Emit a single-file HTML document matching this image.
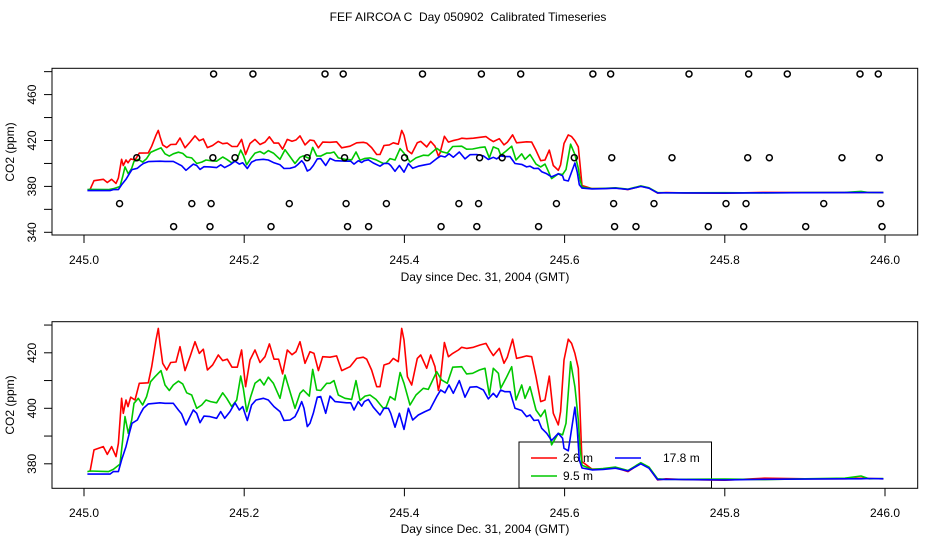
<!DOCTYPE html>
<html><head><meta charset="utf-8"><style>
body{margin:0;background:#fff;}
svg{display:block;font-family:"Liberation Sans",sans-serif;}
</style></head><body>
<svg id="c" width="936" height="540" viewBox="0 0 936 540">
<text x="468" y="21" font-size="12" text-anchor="middle" style="white-space:pre" xml:space="preserve">FEF AIRCOA C  Day 050902  Calibrated Timeseries</text>
</svg>
<script>
// ---- data ----
const redDays=[.0075,.0125,.0241,.0291,.0345,.0400,.0429,.0470,.0491,.0524,.0549,.0583,.0637,.0691,.0803,.0845,.0899,.0928,.0949,.0982,.1032,.1082,.1149,.1199,.1261,.1323,.1386,.1440,.1490,.1540,.1606,.1677,.1731,.1789,.1848,.1914,.1968,.2018,.2072,.2135,.2197,.2260,.2314,.2372,.2430,.2480,.2538,.2597,.2647,.2697,.2759,.2821,.2871,.2926,.2980,.3071,.3154,.3217,.3321,.3404,.3487,.3529,.3591,.3654,.3695,.3745,.3812,.3862,.3924,.3966,.3995,.4037,.4091,.4161,.4203,.4278,.4328,.4382,.4424,.4444,.4499,.4549,.4603,.4674,.4715,.4777,.4861,.4944,.5019,.5069,.5110,.5185,.5243,.5285,.5351,.5401,.5464,.5526,.5589,.5643,.5701,.5755,.5809,.5859,.5921,.5950,.5992,.6046,.6088,.6129,.6171,.6192];
const redVals=[377.2,385.0,386.2,383.4,386.2,382.6,387.4,403.6,398.2,403.0,400.6,404.0,403.0,409.0,409.2,415.0,424.6,428.8,423.4,416.2,413.8,416.5,416.7,422.2,413.6,418.6,424.0,419.8,421.3,413.8,415.6,419.2,417.2,417.7,414.8,414.8,421.0,407.8,417.4,421.0,416.5,418.6,423.2,417.7,417.7,412.4,421.0,419.3,420.4,424.0,416.2,420.4,419.8,413.6,418.6,418.4,418.9,413.6,415.0,418.0,418.4,417.7,413.8,407.8,407.8,415.6,416.2,418.0,416.8,428.8,424.6,411.4,408.4,418.0,419.2,414.4,419.2,415.0,406.4,409.0,423.7,418.6,419.8,421.0,422.0,421.6,422.0,422.8,423.4,420.8,419.0,421.6,416.2,418.4,424.9,418.0,418.4,418.9,418.6,411.4,402.4,403.0,411.6,398.2,394.0,398.8,417.4,424.9,423.4,419.8,414.4,399.4];
const greenDays=[.0042,.0075,.0304,.0366,.0449,.0483,.0512,.0553,.0595,.0624,.0678,.0732,.0782,.0832,.0886,.0961,.1011,.1065,.1115,.1178,.1232,.1282,.1344,.1407,.1469,.1523,.1581,.1656,.1731,.1781,.1844,.1906,.1956,.1989,.2031,.2081,.2135,.2197,.2247,.2301,.2364,.2447,.2509,.2563,.2634,.2697,.2738,.2813,.2855,.2905,.2955,.3030,.3071,.3121,.3175,.3258,.3342,.3396,.3446,.3508,.3571,.3646,.3737,.3771,.3821,.3883,.3946,.3995,.4070,.4145,.4236,.4299,.4403,.4465,.4536,.4603,.4715,.4777,.4852,.4936,.5006,.5060,.5110,.5173,.5202,.5268,.5339,.5393,.5464,.5506,.5568,.5643,.5701,.5755,.5838,.5921,.5975,.6017,.6075,.6129,.6171,.6192];
const greenVals=[377.2,377.4,377.2,378.0,379.9,388.6,397.0,391.0,395.8,401.8,403.6,401.2,404.2,409.6,411.4,413.6,408.4,406.4,408.4,409.8,408.8,405.6,404.8,400.0,401.2,403.0,402.4,402.0,405.6,403.6,400.6,403.0,411.6,407.2,398.8,404.2,409.0,410.4,408.4,411.2,409.0,403.6,412.0,406.8,400.0,405.4,406.6,404.4,414.0,406.6,406.4,409.0,409.0,410.0,404.8,403.6,403.2,410.0,402.8,404.4,404.8,403.2,400.0,400.4,404.2,403.0,412.9,409.0,401.2,404.8,407.2,406.8,413.2,410.2,409.0,414.8,415.0,412.4,412.6,413.8,414.4,404.8,414.4,412.6,407.2,410.8,415.0,403.0,408.4,403.6,407.8,399.4,397.0,399.4,386.8,391.0,390.4,394.6,416.8,407.8,395.8,386.2];
const blueDays=[.0042,.0325,.0366,.0429,.0470,.0524,.0566,.0599,.0666,.0707,.0741,.0803,.0949,.1011,.1115,.1178,.1219,.1273,.1323,.1365,.1407,.1448,.1498,.1573,.1656,.1706,.1756,.1823,.1885,.1939,.1981,.2039,.2093,.2147,.2239,.2301,.2372,.2447,.2497,.2572,.2634,.2676,.2718,.2747,.2788,.2821,.2863,.2913,.2955,.3017,.3071,.3134,.3279,.3329,.3371,.3425,.3467,.3500,.3550,.3612,.3695,.3745,.3800,.3829,.3883,.3937,.3995,.4050,.4104,.4174,.4257,.4320,.4403,.4453,.4507,.4557,.4611,.4686,.4757,.4819,.4902,.4986,.5048,.5110,.5152,.5202,.5256,.5318,.5381,.5464,.5526,.5568,.5618,.5672,.5714,.5776,.5838,.5921,.5975,.5992,.6046,.6129,.6158,.6183];
const blueVals=[376.3,376.3,377.2,377.2,381.4,386.2,391.0,394.6,395.8,398.2,400.0,401.6,402.0,401.8,401.8,399.4,398.0,394.0,397.0,399.4,398.2,394.8,397.2,397.0,396.4,398.8,396.4,398.8,402.0,399.4,400.6,395.6,401.2,403.0,403.6,403.0,400.6,398.8,395.6,395.8,397.0,399.4,402.4,400.0,393.4,394.6,398.2,404.0,404.2,398.2,404.4,402.4,402.0,402.0,399.4,402.4,400.8,402.4,403.2,400.4,397.6,400.0,400.0,398.2,393.2,398.2,392.4,400.0,395.8,397.6,398.8,399.6,404.2,406.6,405.6,408.4,405.4,410.0,404.0,407.6,407.8,406.6,403.4,405.4,404.0,406.6,406.0,406.0,400.0,399.2,397.0,397.6,395.6,395.8,392.8,391.0,388.4,391.0,389.2,385.6,384.7,400.4,392.2,381.4];
const tailDays=[.6217,.6342,.6479,.6635,.6792,.6951,.7054,.7161,.7266,.75,.80,.85,.90,.95,.97,.98,.998];
const redTail=[380.8,378.1,378.1,378.6,377.2,380.2,378.5,374.2,374.6,374.3,374.1,374.8,374.6,374.6,374.8,374.7,374.6];
const greenTail=[379.5,378.0,378.3,378.8,377.6,380.4,378.8,374.6,374.4,374.4,374.5,374.3,374.6,374.8,375.6,374.6,374.7];
const blueTail=[378.5,377.8,378.0,378.4,377.4,380.0,378.4,374.3,374.4,374.3,374.2,374.4,374.5,374.6,374.6,374.7,374.6];
const flagDays478=[.1618,.2109,.3009,.3236,.4226,.4961,.5452,.6353,.6575,.7553,.8298,.8780,.9688,.9916];
const flagDays405=[.0659,.1609,.1885,.2785,.3253,.4002,.4939,.5220,.6121,.6589,.7341,.8286,.8556,.9463,.9929];
const flagDays365=[.0444,.1346,.1587,.2563,.3272,.3775,.4680,.4926,.5898,.6612,.7116,.8015,.8265,.9235,.9946];
const flagDays345=[.1119,.1573,.2335,.3290,.3553,.4458,.4904,.5675,.6624,.6891,.7794,.8236,.9010,.9963];
const flagLevels=[478,405,365,345];
const xTicks=[245.0,245.2,245.4,245.6,245.8,246.0];
const topYTicks=[340,360,380,400,420,440,460,480];
const topYLabels=[340,380,420,460];
const botYTicks=[380,390,400,410,420,430];
const botYLabels=[380,400,420];
const legendLabels=["2.6 m","9.5 m","17.8 m"];

// ---- drawing ----
const NS="http://www.w3.org/2000/svg";
const svg=document.getElementById('c');
function mk(tag,attrs,parent){const e=document.createElementNS(NS,tag);for(const k in attrs)e.setAttribute(k,attrs[k]);(parent||svg).appendChild(e);return e;}
const X=d=>84+801*(d-245);
const series=[
 {name:'red',c:'#ff0000',d:redDays,v:redVals,t:redTail},
 {name:'green',c:'#00c800',d:greenDays,v:greenVals,t:greenTail},
 {name:'blue',c:'#0000ff',d:blueDays,v:blueVals,t:blueTail}
];
// legend (drawn first so series lines pass over it, as in reference)
const lg=mk('g',{});


mk('rect',{x:519,y:442,width:192.5,height:46,fill:'#fff',stroke:'#000','stroke-width':1},lg);
const legPos=[[531,458,563],[531,476,563],[615,458,663]];
series.forEach((s,i)=>{
  const [lx,ly,tx]=legPos[i];
  mk('line',{x1:lx,x2:lx+26,y1:ly,y2:ly,stroke:s.c,'stroke-width':1.4},lg);
  const t=mk('text',{x:tx,y:ly+4,'font-size':12},lg);
  t.textContent=legendLabels[i];
  
  
});
const panels=[
 {top:68.3,bot:235,y:v=>232.3-(v-340)*1.1475,ticks:topYTicks,labels:topYLabels,name:'top',xlabY:264,xtitY:281,ytitY:152},
 {top:321.7,bot:488.3,y:v=>408.3-(v-400)*2.775,ticks:botYTicks,labels:botYLabels,name:'bottom',xlabY:517,xtitY:533,ytitY:405}
];
panels.forEach((p,pi)=>{
  const g=mk('g',{});
  
  
  const cp=mk('clipPath',{id:'clip'+pi},g);
  mk('rect',{x:52,y:p.top,width:866,height:p.bot-p.top},cp);
  const lgp=mk('g',{'clip-path':'url(#clip'+pi+')'},g);
  series.forEach(s=>{
    const pts=[];
    s.d.forEach((d,i)=>pts.push(X(245+d).toFixed(1)+','+p.y(s.v[i]).toFixed(1)));
    tailDays.forEach((d,i)=>pts.push(X(245+d).toFixed(1)+','+p.y(s.t[i]).toFixed(1)));
    const pl=mk('polyline',{points:pts.join(' '),fill:'none',stroke:s.c,'stroke-width':1.6,'stroke-linejoin':'round'},lgp);
    
    
  });
  if(pi===0){
    [flagDays478,flagDays405,flagDays365,flagDays345].forEach((arr,li)=>{
      arr.forEach(d=>{
        const c=mk('circle',{cx:X(245+d),cy:p.y(flagLevels[li]),r:3,fill:'none',stroke:'#000','stroke-width':1.5},g);
        
        
      });
    });
  }
  const box=mk('rect',{x:52,y:p.top,width:865.7,height:p.bot-p.top,fill:'none',stroke:'#000','stroke-width':1},g);
  
  
  xTicks.forEach(t=>{
    const x=X(t);
    mk('line',{x1:x,x2:x,y1:p.bot,y2:p.bot+8,stroke:'#000'},g);
    const tx=mk('text',{x:x,y:p.xlabY,'font-size':12,'text-anchor':'middle'},g);
    tx.textContent=t.toFixed(1);
    
    
  });
  p.ticks.forEach(t=>{
    const y=p.y(t);
    mk('line',{x1:44,x2:52,y1:y,y2:y,stroke:'#000'},g);
  });
  p.labels.forEach(t=>{
    const y=p.y(t);
    const tx=mk('text',{x:0,y:0,'font-size':12,'text-anchor':'middle',transform:'translate(36,'+y+') rotate(-90)'},g);
    tx.textContent=t;
    
    
  });
  const xt=mk('text',{x:485,y:p.xtitY,'font-size':12,'text-anchor':'middle'},g);
  xt.textContent='Day since Dec. 31, 2004 (GMT)';
  
  
  const yt=mk('text',{x:0,y:0,'font-size':12,'text-anchor':'middle',transform:'translate(14,'+p.ytitY+') rotate(-90)'},g);
  yt.textContent='CO2 (ppm)';
  
  
});
</script>
</body></html>
